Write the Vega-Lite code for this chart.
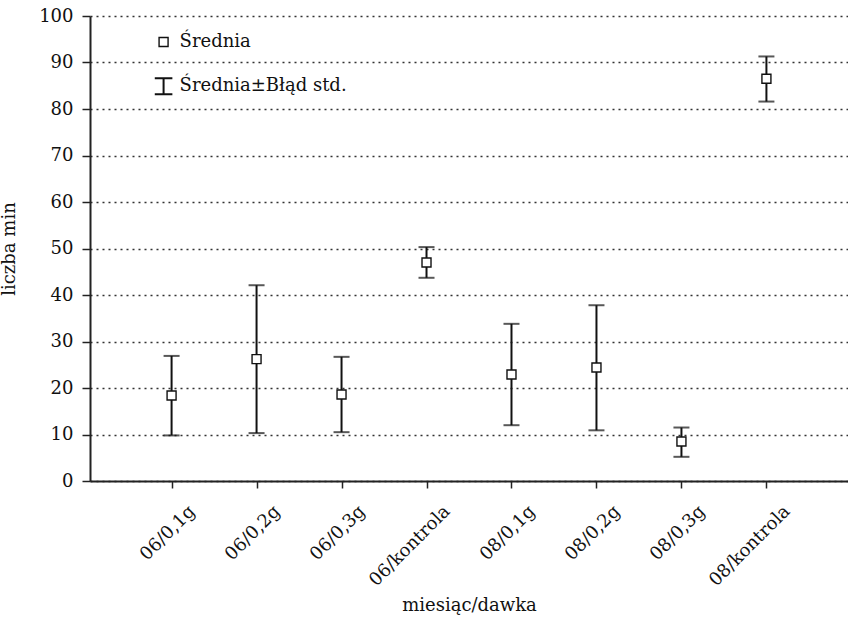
{
  "$schema": "https://vega.github.io/schema/vega-lite/v6.json",
  "width": 758,
  "height": 465,
  "autosize": {"type": "none"},
  "padding": {"left": 90, "top": 16, "right": 0, "bottom": 138},
  "background": "white",
  "config": {
    "view": {"stroke": null},
    "font": "DejaVu Serif",
    "axis": {"labelFont": "DejaVu Serif", "labelFontSize": 18, "titleFont": "DejaVu Serif", "titleFontSize": 18, "titleFontWeight": "normal", "labelColor": "#111", "titleColor": "#111"}
  },
  "data": {
    "values": [
      {"grupa": "06/0,1g", "mean": 18.4, "low": 9.8, "high": 26.9},
      {"grupa": "06/0,2g", "mean": 26.2, "low": 10.3, "high": 42.1},
      {"grupa": "06/0,3g", "mean": 18.6, "low": 10.5, "high": 26.7},
      {"grupa": "06/kontrola", "mean": 47.0, "low": 43.7, "high": 50.3},
      {"grupa": "08/0,1g", "mean": 22.9, "low": 12.0, "high": 33.8},
      {"grupa": "08/0,2g", "mean": 24.4, "low": 10.9, "high": 37.8},
      {"grupa": "08/0,3g", "mean": 8.5, "low": 5.2, "high": 11.5},
      {"grupa": "08/kontrola", "mean": 86.5, "low": 81.6, "high": 91.3}
    ]
  },
  "encoding": {
    "x": {
      "field": "grupa",
      "type": "nominal",
      "sort": null,
      "scale": {"type": "point", "padding": 0.96},
      "axis": {
        "title": "miesiąc/dawka",
        "titleX": 379,
        "titleY": 124,
        "titleBaseline": "middle",
        "labelAngle": -45,
        "labelAlign": "right",
        "labelBaseline": "top",
        "labelOffset": 14,
        "labelPadding": 14,
        "tickSize": 7,
        "tickColor": "#222",
        "tickWidth": 1.5,
        "domainColor": "#222",
        "domainWidth": 2,
        "grid": false
      }
    },
    "y": {
      "field": "low",
      "type": "quantitative",
      "scale": {"domain": [0, 100], "nice": false},
      "axis": {
        "title": "liczba min",
        "titleX": -72,
        "titleY": 232.5,
        "values": [0, 10, 20, 30, 40, 50, 60, 70, 80, 90, 100],
        "tickSize": 8,
        "tickColor": "#222",
        "tickWidth": 1.5,
        "domainColor": "#222",
        "domainWidth": 2,
        "labelPadding": 9,
        "grid": true,
        "gridDash": [2, 4],
        "gridColor": "#333",
        "gridWidth": 1.5
      }
    }
  },
  "layer": [
    {
      "mark": {"type": "rule", "color": "#111", "strokeWidth": 2},
      "encoding": {"y2": {"field": "high"}}
    },
    {
      "mark": {"type": "tick", "color": "#111", "size": 16, "thickness": 2, "orient": "horizontal"},
      "encoding": {}
    },
    {
      "mark": {"type": "tick", "color": "#111", "size": 16, "thickness": 2, "orient": "horizontal"},
      "encoding": {"y": {"field": "high", "type": "quantitative"}}
    },
    {
      "mark": {"type": "point", "shape": "square", "filled": false, "color": "#111", "fill": "white", "fillOpacity": 1, "strokeWidth": 1.4, "opacity": 1, "size": 81},
      "encoding": {"y": {"field": "mean", "type": "quantitative"}}
    },
    {
      "transform": [{"filter": "datum.grupa === '06/0,1g'"}],
      "mark": {"type": "point", "shape": "square", "filled": false, "color": "#111", "fill": "white", "fillOpacity": 1, "strokeWidth": 1.4, "opacity": 1, "size": 81, "xOffset": -8},
      "encoding": {"y": {"datum": 94.4, "type": "quantitative"}}
    },
    {
      "transform": [{"filter": "datum.grupa === '06/0,1g'"}],
      "mark": {"type": "point", "shape": "M-1.1,-1H1.1M0,-1V1M-1.1,1H1.1", "filled": false, "color": "#111", "strokeWidth": 2, "opacity": 1, "size": 256, "xOffset": -8},
      "encoding": {"y": {"datum": 84.9, "type": "quantitative"}}
    },
    {
      "transform": [{"filter": "datum.grupa === '06/0,1g'"}],
      "mark": {"type": "text", "text": "Średnia", "align": "left", "baseline": "middle", "dx": 8, "font": "DejaVu Serif", "fontSize": 18, "color": "#111"},
      "encoding": {"y": {"datum": 94.4, "type": "quantitative"}}
    },
    {
      "transform": [{"filter": "datum.grupa === '06/0,1g'"}],
      "mark": {"type": "text", "text": "Średnia±Błąd std.", "align": "left", "baseline": "middle", "dx": 8, "font": "DejaVu Serif", "fontSize": 18, "color": "#111"},
      "encoding": {"y": {"datum": 84.9, "type": "quantitative"}}
    }
  ]
}
